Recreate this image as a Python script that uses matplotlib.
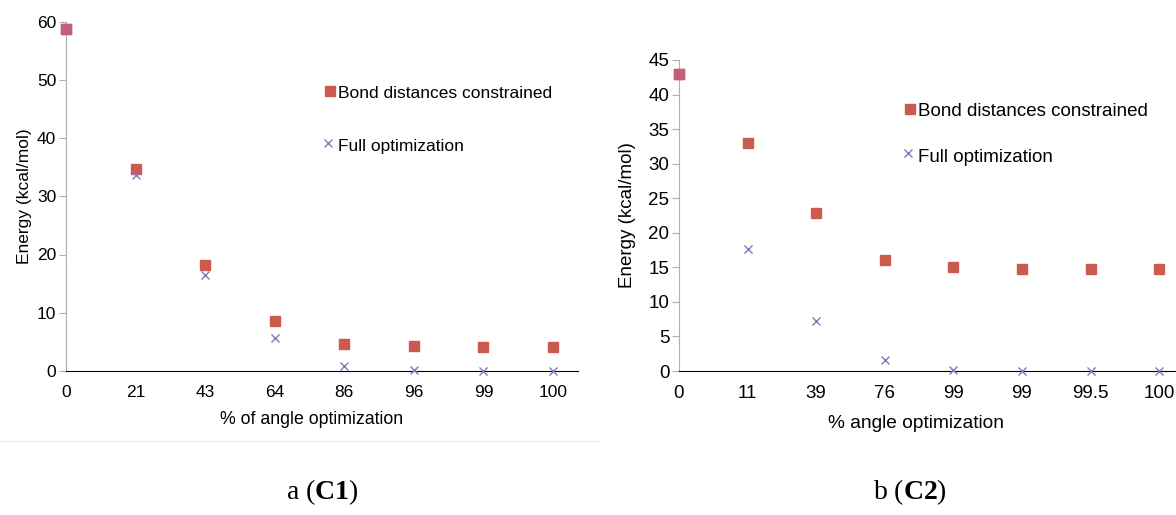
import numpy as np
import matplotlib.pyplot as plt
from matplotlib.lines import Line2D

plt.rcParams['font.family'] = ['Liberation Sans', 'DejaVu Sans']
plt.rcParams['mathtext.fontset'] = 'custom'
plt.rcParams['mathtext.rm'] = 'Liberation Serif'
plt.rcParams['mathtext.bf'] = 'Liberation Serif:bold'

# panel a (C1)
labels_c1 = ['0', '21', '43', '64', '86', '96', '99', '100']
bond_c1 = [58.7, 34.7, 18.2, 8.6, 4.7, 4.3, 4.2, 4.2]
full_c1 = [58.7, 33.7, 16.4, 5.6, 0.8, 0.1, 0.05, 0.05]

# panel b (C2)
labels_c2 = ['0', '11', '39', '76', '99', '99', '99.5', '100']
bond_c2 = [43.0, 33.0, 22.9, 16.1, 15.0, 14.8, 14.8, 14.8]
full_c2 = [43.0, 17.7, 7.2, 1.6, 0.1, 0.05, 0.05, 0.05]

sq_col = '#cd5a4e'
x_col = '#8478b8'

fig = plt.figure(figsize=(11.76, 5.15), dpi=100)


def panel(ax, labels, bond, full, ymax, ystep, xmax, xlabel, fs):
    x = np.arange(len(labels))
    ax.plot(x, full, 'x', color=x_col, markersize=6, markeredgewidth=1.0,
            clip_on=False, zorder=3)
    ax.plot(x, bond, 's', color=sq_col, markersize=6.5, clip_on=False, zorder=2)
    # first point: both series meet there
    ax.plot(x[:1], bond[:1], 's', color='#c0607a', markersize=6.5, clip_on=False, zorder=4)
    ax.set_xlim(0, xmax)
    ax.set_ylim(0, ymax)
    ax.set_xticks(x)
    ax.set_xticklabels(labels)
    ax.set_yticks(np.arange(0, ymax + 0.1, ystep))
    ax.tick_params(axis='x', length=0, pad=10, labelsize=fs)
    ax.tick_params(axis='y', length=5, color='#b0b0b0', labelsize=fs, pad=2)
    for s in ['top', 'right']:
        ax.spines[s].set_visible(False)
    ax.spines['left'].set_color('#b0b0b0')
    ax.spines['bottom'].set_color('black')
    ax.set_ylabel('Energy (kcal/mol)', fontsize=fs)
    ax.set_xlabel(xlabel, fontsize=fs + 0.3)
    ax.set_facecolor('none')


ax1 = fig.add_axes([66 / 1176, 1 - 371 / 515, 512 / 1176, 349.5 / 515])
panel(ax1, labels_c1, bond_c1, full_c1, 60, 10, 7.36, '% of angle optimization', 12.5)
ax1.yaxis.set_label_coords(-0.067, 0.5)
ax1.xaxis.set_label_coords(0.48, -0.115)

ax2 = fig.add_axes([679 / 1176, 1 - 371 / 515, 7.6 * 68.6 / 1176, 311 / 515])
panel(ax2, labels_c2, bond_c2, full_c2, 45, 5, 7.6, '% angle optimization', 13.5)
ax2.yaxis.set_label_coords(-0.082, 0.5)
ax2.xaxis.set_label_coords(0.455, -0.14)

# hand-placed legends
def legend_at(px, py1, py2, fs):
    fig.add_artist(Line2D([px / 1176], [1 - py1 / 515], marker='s', color=sq_col,
                          markersize=6.5, linestyle='none'))
    fig.text((px + 8) / 1176, 1 - (py1 + 3) / 515, 'Bond distances constrained',
             fontsize=fs, va='center')
    fig.add_artist(Line2D([(px - 2) / 1176], [1 - py2 / 515], marker='x', color=x_col,
                          markersize=6, markeredgewidth=1.0, linestyle='none'))
    fig.text((px + 8) / 1176, 1 - (py2 + 4) / 515, 'Full optimization',
             fontsize=fs, va='center')


legend_at(330, 91, 143, 12.5)
legend_at(910, 109, 153, 13.5)

# faint frame edge below panel a
fig.add_artist(Line2D([0, 600 / 1176], [1 - 441 / 515] * 2, color='#eeeeee', lw=1))

cap = dict(fontsize=20, va='center', ha='center', family=['Liberation Serif', 'DejaVu Serif'])
fig.text(322 / 1176, 1 - 492 / 515, r'a ($\mathbf{C1}$)', **cap)
fig.text(910 / 1176, 1 - 492 / 515, r'b ($\mathbf{C2}$)', **cap)

fig.savefig('out.png', dpi=100)
